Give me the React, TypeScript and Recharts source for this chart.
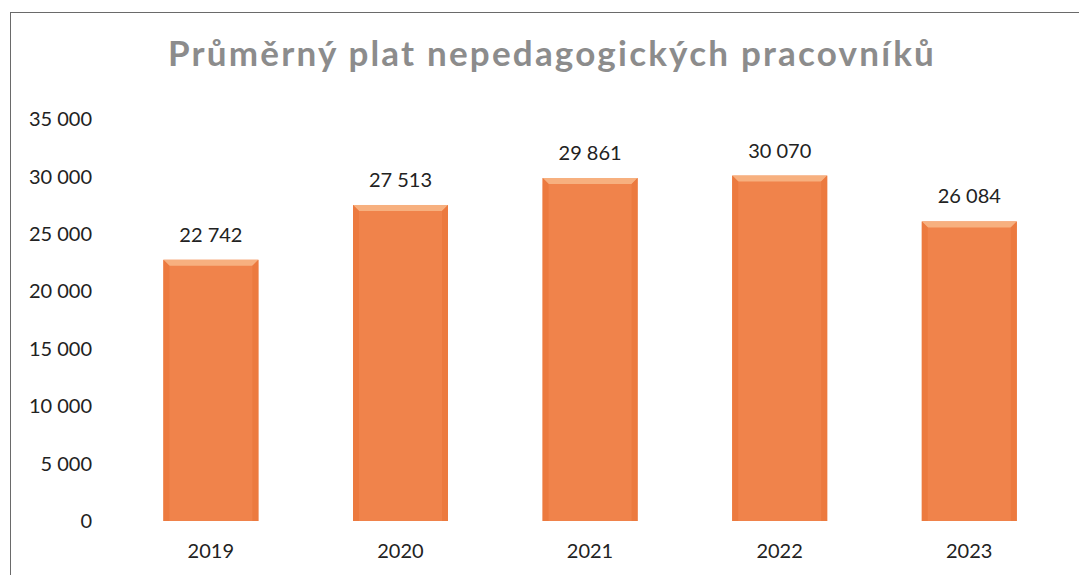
import { BarChart, Bar, XAxis, YAxis, LabelList } from "recharts";

const years = ["2019", "2020", "2021", "2022", "2023"];
const salaries = [22742, 27513, 29861, 30070, 26084];
const yTicks = [0, 5000, 10000, 15000, 20000, 25000, 30000, 35000];

const data = years.map((year, i) => ({ year, value: salaries[i] }));

const FONT = "Lato, 'Open Sans', sans-serif";

// thousands with a space, like the Czech original
const fmt = (v: number) => String(v).replace(/\B(?=(\d{3})+(?!\d))/g, " ");

interface ShapeProps {
  x?: number;
  y?: number;
  width?: number;
  height?: number;
}

// orange bar with a small bevel on the top edge
const BevelBar = ({ x = 0, y = 0, width = 0, height = 0 }: ShapeProps) => {
  const b = 6;
  return (
    <g>
      <rect x={x} y={y} width={width} height={height} fill="#F0834B" />
      <polygon
        points={`${x},${y} ${x + width},${y} ${x + width - b},${y + b} ${x + b},${y + b}`}
        fill="#F7B07F"
      />
      <polygon
        points={`${x},${y} ${x + b},${y + b} ${x + b},${y + height} ${x},${y + height}`}
        fill="#EC7A3F"
      />
      <polygon
        points={`${x + width},${y} ${x + width - b},${y + b} ${x + width - b},${y + height} ${x + width},${y + height}`}
        fill="#EC7A3F"
      />
    </g>
  );
};

export default function App() {
  return (
    <div
      style={{
        position: "absolute",
        left: 0,
        top: 0,
        width: 1079,
        height: 575,
        background: "#fff",
        overflow: "hidden",
      }}
    >
      <div
        style={{
          position: "absolute",
          left: 10,
          top: 12,
          width: 1075,
          height: 575,
          border: "1.5px solid #6a6a6a",
        }}
      />
      <div
        style={{
          position: "absolute",
          left: 0,
          top: 31,
          width: 1104,
          textAlign: "center",
          fontFamily: FONT,
          fontWeight: 700,
          fontSize: 35,
          letterSpacing: 2.2,
          color: "#8c8c8c",
        }}
      >
        Průměrný plat nepedagogických pracovníků
      </div>
      <div style={{ position: "absolute", left: 0, top: 0 }}>
        <BarChart
          width={1079}
          height={575}
          data={data}
          margin={{ top: 119, right: 15, bottom: 0, left: 0 }}
          barCategoryGap="25%"
        >
          <XAxis
            dataKey="year"
            axisLine={false}
            tickLine={false}
            height={54}
            tickMargin={17}
            tick={{ fontFamily: FONT, fontSize: 20, fill: "#222" }}
          />
          <YAxis
            width={116}
            domain={[0, 35000]}
            ticks={yTicks}
            tickFormatter={fmt}
            axisLine={false}
            tickLine={false}
            tickMargin={18}
            tick={{ fontFamily: FONT, fontSize: 20, fill: "#222" }}
          />
          <Bar dataKey="value" shape={<BevelBar />} isAnimationActive={false}>
            <LabelList
              dataKey="value"
              position="top"
              offset={18}
              formatter={(v: number) => fmt(v)}
              style={{ fontFamily: FONT, fontSize: 20, fill: "#222" }}
            />
          </Bar>
        </BarChart>
      </div>
    </div>
  );
}
